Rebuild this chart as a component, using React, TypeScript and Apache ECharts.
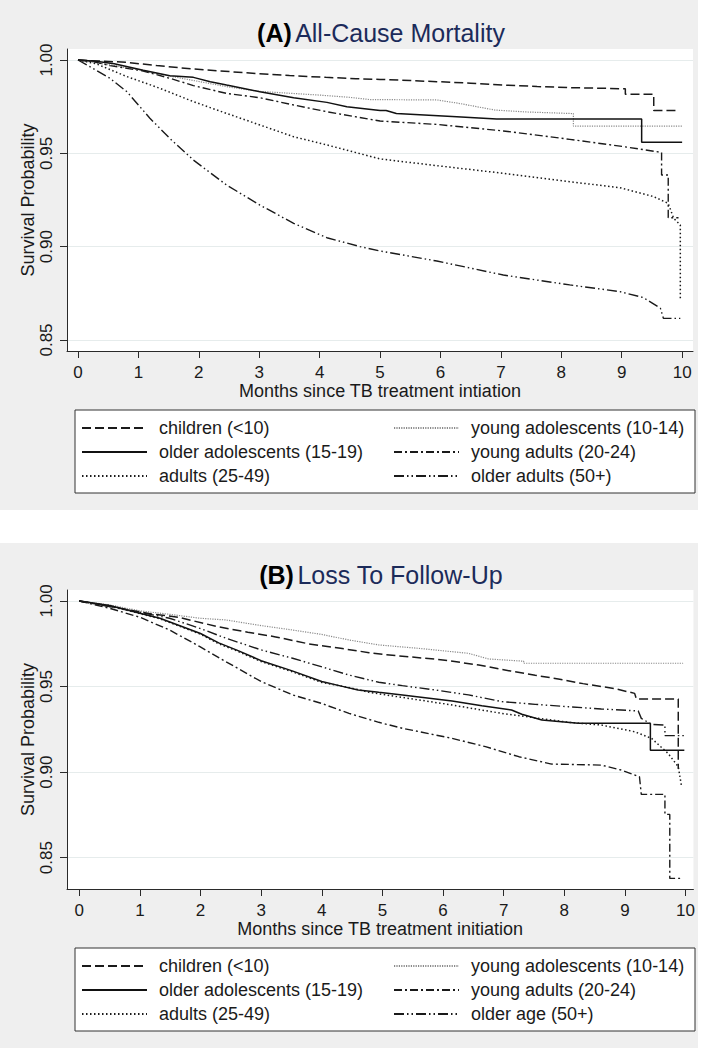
import React, { useEffect, useRef } from "react";
import * as echarts from "echarts";

const FONT = "'Liberation Sans', Arial, Helvetica, sans-serif";
const PANEL_BG = "#efefef";
const TITLE_NAVY = "#1c2b5a";

// ---------- categories / labels ----------
const NAMES_A = [
  "children (<10)",
  "young adolescents (10-14)",
  "older adolescents (15-19)",
  "young adults (20-24)",
  "adults (25-49)",
  "older adults (50+)",
];
const NAMES_B = [
  "children (<10)",
  "young adolescents (10-14)",
  "older adolescents (15-19)",
  "young adults (20-24)",
  "adults (25-49)",
  "older age (50+)",
];
const X_TICKS = [0, 1, 2, 3, 4, 5, 6, 7, 8, 9, 10];
const Y_TICKS = [0.85, 0.9, 0.95, 1.0];

// ---------- Panel A: all-cause mortality (month, survival) ----------
const childrenA: [number, number][] = [
  [0, 1], [0.3, 0.9995], [0.8, 0.9988], [1.3, 0.997], [1.9, 0.9952], [2.5, 0.9938],
  [3.0, 0.9927], [3.5, 0.9917], [4.1, 0.9907], [4.6, 0.99], [5.0, 0.9896], [5.5, 0.989],
  [5.94, 0.9884], [6.5, 0.9876], [7.04, 0.9866], [7.6, 0.9858], [8.14, 0.9852],
  [9.06, 0.9846], [9.06, 0.9816], [9.53, 0.9816], [9.53, 0.973], [9.91, 0.973],
];
const youngAdolA: [number, number][] = [
  [0, 1], [0.3, 0.9985], [0.6, 0.997], [1.0, 0.9948], [1.5, 0.9915], [2.0, 0.9885],
  [2.5, 0.9855], [3.0, 0.9832], [3.5, 0.9822], [4.0, 0.9812], [4.5, 0.98], [4.83, 0.9788],
  [5.94, 0.9786], [6.3, 0.9768], [6.9, 0.9732], [7.4, 0.9722], [8.2, 0.9713],
  [8.2, 0.9646], [10.0, 0.9646],
];
const olderAdolA: [number, number][] = [
  [0, 1], [0.3, 0.9993], [0.6, 0.998], [1.08, 0.9945], [1.52, 0.9916], [1.91, 0.9907],
  [2.19, 0.9884], [2.46, 0.9866], [3.01, 0.983], [3.57, 0.9798], [4.12, 0.9773],
  [4.45, 0.975], [5.0, 0.9729], [5.1, 0.9729], [5.27, 0.9713], [6.27, 0.9696],
  [6.93, 0.9684], [9.33, 0.9684], [9.33, 0.9559], [10.0, 0.9559],
];
const youngAdultsA: [number, number][] = [
  [0, 1], [0.25, 0.9992], [0.53, 0.997], [1.08, 0.9941], [1.52, 0.9902], [1.91, 0.9863],
  [2.46, 0.9821], [3.01, 0.9798], [3.57, 0.9759], [4.12, 0.9723], [5.0, 0.9673],
  [5.94, 0.9655], [7.04, 0.962], [8.14, 0.9575], [9.03, 0.9536], [9.66, 0.9505],
  [9.66, 0.9384], [9.77, 0.9384], [9.77, 0.9155], [9.94, 0.9155],
];
const adultsA: [number, number][] = [
  [0, 1], [0.3, 0.998], [0.81, 0.9911], [1.36, 0.9848], [1.91, 0.9777], [2.46, 0.9714],
  [3.01, 0.9652], [3.57, 0.9589], [4.12, 0.9545], [5.0, 0.947], [5.94, 0.9434],
  [7.04, 0.9393], [8.14, 0.9348], [8.97, 0.9316], [9.53, 0.9268], [9.77, 0.9232],
  [9.86, 0.9152], [9.97, 0.9116], [9.97, 0.8714],
];
const olderAdultsA: [number, number][] = [
  [0, 1], [0.25, 0.9955], [0.53, 0.9902], [0.81, 0.983], [1.19, 0.9688], [1.52, 0.958],
  [1.91, 0.9464], [2.46, 0.933], [3.01, 0.9223], [3.57, 0.9125], [4.12, 0.9048],
  [4.67, 0.9], [5.0, 0.8977], [5.94, 0.8923], [7.04, 0.8848], [8.14, 0.8795],
  [8.97, 0.8759], [9.36, 0.8727], [9.64, 0.867], [9.69, 0.8616], [9.97, 0.8616],
];

// ---------- Panel B: loss to follow-up (month, survival) ----------
const childrenB: [number, number][] = [
  [0, 1], [0.5, 0.9968], [1.19, 0.9924], [1.63, 0.9905], [2.28, 0.985], [2.78, 0.9817],
  [3.24, 0.979], [3.79, 0.9749], [4.31, 0.9723], [4.78, 0.9698], [5.05, 0.9686],
  [5.96, 0.9657], [6.59, 0.9626], [7.11, 0.9591], [7.52, 0.9566], [7.9, 0.9544],
  [8.31, 0.9517], [8.83, 0.9488], [9.16, 0.946], [9.19, 0.9427], [9.88, 0.9427],
  [9.88, 0.902],
];
const youngAdolB: [number, number][] = [
  [0, 1], [0.5, 0.9977], [1.0, 0.9942], [1.49, 0.9922], [1.99, 0.9899], [2.42, 0.9889],
  [3.0, 0.9856], [3.52, 0.983], [3.99, 0.9805], [4.45, 0.9772], [4.94, 0.9743],
  [5.6, 0.9723], [6.42, 0.9694], [6.75, 0.9661], [7.33, 0.9648], [7.33, 0.9636],
  [9.96, 0.9636],
];
const olderAdolB: [number, number][] = [
  [0, 1], [0.5, 0.9973], [1.0, 0.9928], [1.33, 0.9899], [2.0, 0.981], [2.3, 0.9755],
  [2.6, 0.9713], [3.0, 0.9651], [3.5, 0.9593], [4.0, 0.9529], [4.34, 0.9501],
  [4.6, 0.948], [4.94, 0.9466], [5.33, 0.9451], [6.15, 0.9416], [6.64, 0.9388],
  [7.13, 0.9363], [7.3, 0.9338], [7.63, 0.9305], [8.23, 0.9285], [9.42, 0.9285],
  [9.42, 0.9127], [9.98, 0.9127],
];
const youngAdultsB: [number, number][] = [
  [0, 1], [0.5, 0.9957], [1.0, 0.9905], [1.49, 0.983], [1.99, 0.9733], [2.42, 0.9645],
  [3.0, 0.9529], [3.52, 0.9451], [3.99, 0.9402], [4.45, 0.9343], [4.94, 0.9291],
  [5.33, 0.9256], [6.15, 0.9197], [6.7, 0.9149], [7.25, 0.909], [7.79, 0.9047],
  [8.61, 0.9041], [8.94, 0.9012], [9.24, 0.8973], [9.27, 0.887], [9.66, 0.887],
  [9.66, 0.8753], [9.74, 0.8753], [9.74, 0.8379], [9.96, 0.8379],
];
const adultsB: [number, number][] = [
  [0, 1], [0.5, 0.9972], [1.0, 0.9926], [1.33, 0.9896], [2.0, 0.9806], [2.3, 0.975],
  [2.6, 0.9708], [3.0, 0.9646], [3.5, 0.9588], [4.0, 0.9524], [4.5, 0.949],
  [4.78, 0.9466], [6.15, 0.9392], [6.97, 0.9343], [8.07, 0.9291], [8.61, 0.9275],
  [9.16, 0.9236], [9.44, 0.9197], [9.71, 0.911], [9.88, 0.9032], [9.93, 0.8925],
];
const olderAgeB: [number, number][] = [
  [0, 1], [0.5, 0.9967], [1.0, 0.9934], [1.49, 0.9899], [1.99, 0.984], [2.42, 0.9782],
  [3.0, 0.9714], [3.52, 0.9665], [3.99, 0.9616], [4.45, 0.9567], [4.94, 0.9525],
  [5.33, 0.9505], [5.87, 0.948], [6.42, 0.9451], [6.97, 0.9412], [7.52, 0.9396],
  [8.07, 0.9382], [8.61, 0.9369], [9.22, 0.9357], [9.27, 0.9314], [9.44, 0.9279],
  [9.66, 0.9275], [9.66, 0.9213], [9.98, 0.9213],
];

// ---------- line styles (order matches names) ----------
const LINE_STYLES: any[] = [
  { color: "#1a1a1a", width: 1.5, type: [9, 4] },
  { color: "#8a8a8a", width: 1.2, type: [1.2, 1.2] },
  { color: "#111111", width: 1.5, type: "solid" },
  { color: "#1a1a1a", width: 1.4, type: [8, 3, 2, 3] },
  { color: "#1a1a1a", width: 1.5, type: [1.5, 2.5] },
  { color: "#1a1a1a", width: 1.4, type: [10, 3, 1.5, 3, 1.5, 3] },
];

type PanelCfg = {
  letter: string;
  title: string;
  names: string[];
  data: [number, number][][];
  xName: string;
  grid: { left: number; top: number; width: number; height: number };
  xMin: number;
  xMax: number;
  yMin: number;
  yMax: number;
  titleX: number;
  titleY: number;
  legendTop: number;
};

function buildOption(c: PanelCfg): any {
  const axisColor = "#2a2a2a";
  return {
    animation: false,
    textStyle: { fontFamily: FONT },
    graphic: [
      {
        type: "text",
        x: c.titleX,
        y: c.titleY,
        style: {
          text: "{b|(" + c.letter + ")} {n|" + c.title + "}",
          align: "center",
          verticalAlign: "middle",
          rich: {
            b: { fontFamily: FONT, fontSize: 25, fontWeight: "bold", fill: "#000" },
            n: { fontFamily: FONT, fontSize: 25, fill: TITLE_NAVY },
          },
        },
      },
    ],
    grid: {
      ...c.grid,
      show: true,
      backgroundColor: "#ffffff",
      borderWidth: 0,
    },
    xAxis: {
      type: "value",
      min: c.xMin,
      max: c.xMax,
      name: c.xName,
      nameLocation: "middle",
      nameGap: 31,
      nameMoveOverlap: false,
      nameTextStyle: { fontFamily: FONT, fontSize: 18, color: "#1a1a1a" },
      axisLine: { show: true, onZero: false, lineStyle: { color: axisColor, width: 1 } },
      axisTick: { show: true, length: 7, customValues: X_TICKS, lineStyle: { color: axisColor } },
      axisLabel: {
        customValues: X_TICKS,
        margin: 13,
        fontFamily: FONT,
        fontSize: 17,
        color: "#1a1a1a",
      },
      splitLine: { show: false },
    },
    yAxis: {
      type: "value",
      min: c.yMin,
      max: c.yMax,
      name: "Survival Probability",
      nameLocation: "middle",
      nameGap: 30,
      nameRotate: 90,
      nameMoveOverlap: false,
      nameTextStyle: { fontFamily: FONT, fontSize: 18, color: "#1a1a1a" },
      axisLine: { show: true, onZero: false, lineStyle: { color: axisColor, width: 1 } },
      axisTick: { show: true, length: 7, customValues: Y_TICKS, lineStyle: { color: axisColor } },
      axisLabel: {
        customValues: Y_TICKS,
        rotate: 90,
        margin: 12,
        fontFamily: FONT,
        fontSize: 17,
        color: "#1a1a1a",
        formatter: (v: number) => v.toFixed(2),
      },
      splitLine: { show: true, lineStyle: { color: "#e6ecec", width: 1 } },
    },
    legend: {
      left: 75,
      top: c.legendTop,
      width: 620,
      orient: "horizontal",
      padding: [9, 3, 8, 6],
      itemGap: 6,
      itemWidth: 65,
      itemHeight: 11,
      backgroundColor: "#ffffff",
      borderColor: "#333333",
      borderWidth: 1,
      borderRadius: 0,
      selectedMode: false,
      data: c.names.map((name, i) => ({
        name,
        textStyle: { width: i % 2 === 0 ? 228 : 221 },
      })),
      itemStyle: { opacity: 0 },
      textStyle: {
        fontFamily: FONT,
        fontSize: 18,
        color: "#1a1a1a",
        lineHeight: 18,
        height: 18,
        padding: [0, 0, 0, 7],
        overflow: "none",
      },
    },
    series: c.names.map((name, i) => ({
      name,
      type: "line",
      data: c.data[i],
      symbol: "none",
      showSymbol: false,
      silent: true,
      clip: true,
      z: i === 1 ? 1 : 2,
      lineStyle: LINE_STYLES[i],
      itemStyle: { color: LINE_STYLES[i].color },
    })),
  };
}

const PANEL_A: PanelCfg = {
  letter: "A",
  title: "All-Cause Mortality",
  names: NAMES_A,
  data: [childrenA, youngAdolA, olderAdolA, youngAdultsA, adultsA, olderAdultsA],
  xName: "Months since TB treatment intiation",
  grid: { left: 67, top: 49, width: 626, height: 302 },
  xMin: -0.182,
  xMax: 10.18,
  yMin: 0.8441,
  yMax: 1.0059,
  titleX: 381,
  titleY: 33,
  legendTop: 410,
};

const PANEL_B: PanelCfg = {
  letter: "B",
  title: "Loss To Follow-Up",
  names: NAMES_B,
  data: [childrenB, youngAdolB, olderAdolB, youngAdultsB, adultsB, olderAgeB],
  xName: "Months since TB treatment initiation",
  grid: { left: 67, top: 47, width: 629, height: 299 },
  xMin: -0.202,
  xMax: 10.13,
  yMin: 0.8317,
  yMax: 1.0064,
  titleX: 381,
  titleY: 32,
  legendTop: 405,
};

function Panel({ cfg, top, height }: { cfg: PanelCfg; top: number; height: number }) {
  const ref = useRef<HTMLDivElement>(null);
  useEffect(() => {
    if (!ref.current) return;
    const chart = echarts.init(ref.current, undefined, { renderer: "svg" });
    chart.setOption(buildOption(cfg));
    return () => chart.dispose();
  }, [cfg]);
  return (
    <div
      ref={ref}
      style={{
        position: "absolute",
        left: 0,
        top,
        width: 698,
        height,
        background: PANEL_BG,
      }}
    />
  );
}

export default function App() {
  return (
    <div style={{ position: "absolute", left: 0, top: 0, width: 709, height: 1051, background: "#ffffff" }}>
      <Panel cfg={PANEL_A} top={0} height={510} />
      <Panel cfg={PANEL_B} top={543} height={505} />
    </div>
  );
}
